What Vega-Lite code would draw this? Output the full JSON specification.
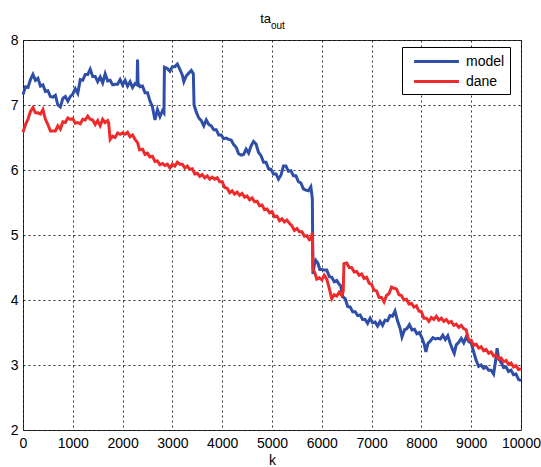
{
  "$schema": "https://vega.github.io/schema/vega-lite/v6.json",
  "autosize": "none",
  "width": 498,
  "height": 390,
  "padding": {"left": 23, "top": 40, "right": 20, "bottom": 37},
  "background": "#ffffff",
  "config": {
    "view": {"stroke": "#333333", "strokeWidth": 1},
    "axis": {
      "domain": false,
      "ticks": false,
      "grid": true,
      "gridColor": "#000000",
      "gridDash": [2, 3],
      "gridWidth": 1,
      "gridOpacity": 0.8,
      "labelFont": "Liberation Sans",
      "labelFontSize": 14,
      "labelColor": "#000000",
      "titleFont": "Liberation Sans",
      "titleFontSize": 14,
      "titleFontWeight": "normal",
      "titleColor": "#000000"
    },
    "legend": {
      "orient": "none",
      "legendX": 379,
      "legendY": 7,
      "strokeColor": "#000000",
      "fillColor": "#ffffff",
      "padding": 5,
      "labelFont": "Liberation Sans",
      "labelFontSize": 14,
      "labelColor": "#000000",
      "labelExpr": "datum.label + '   '",
      "symbolType": "M-2.8,0L2.8,0",
      "symbolSize": 256,
      "symbolStrokeWidth": 3,
      "symbolOffset": 20,
      "labelOffset": 20,
      "rowPadding": 3
    }
  },
  "data": {
    "values": [
      {"k":0,"y":7.16,"s":"model"},{"k":50,"y":7.28,"s":"model"},{"k":100,"y":7.27,"s":"model"},{"k":150,"y":7.39,"s":"model"},{"k":200,"y":7.47,"s":"model"},{"k":250,"y":7.38,"s":"model"},{"k":300,"y":7.41,"s":"model"},{"k":350,"y":7.29,"s":"model"},{"k":400,"y":7.31,"s":"model"},{"k":450,"y":7.21,"s":"model"},
      {"k":500,"y":7.22,"s":"model"},{"k":550,"y":7.13,"s":"model"},{"k":600,"y":7.12,"s":"model"},{"k":650,"y":7.15,"s":"model"},{"k":700,"y":7.00,"s":"model"},{"k":750,"y":6.97,"s":"model"},{"k":800,"y":7.10,"s":"model"},{"k":850,"y":7.13,"s":"model"},{"k":900,"y":7.06,"s":"model"},{"k":950,"y":7.13,"s":"model"},
      {"k":1000,"y":7.17,"s":"model"},{"k":1050,"y":7.25,"s":"model"},{"k":1100,"y":7.18,"s":"model"},{"k":1150,"y":7.39,"s":"model"},{"k":1200,"y":7.38,"s":"model"},{"k":1250,"y":7.47,"s":"model"},{"k":1300,"y":7.47,"s":"model"},{"k":1350,"y":7.55,"s":"model"},{"k":1400,"y":7.44,"s":"model"},{"k":1450,"y":7.44,"s":"model"},
      {"k":1500,"y":7.36,"s":"model"},{"k":1550,"y":7.43,"s":"model"},{"k":1600,"y":7.34,"s":"model"},{"k":1650,"y":7.48,"s":"model"},{"k":1700,"y":7.37,"s":"model"},{"k":1750,"y":7.38,"s":"model"},{"k":1800,"y":7.31,"s":"model"},{"k":1850,"y":7.32,"s":"model"},{"k":1900,"y":7.32,"s":"model"},{"k":1950,"y":7.39,"s":"model"},
      {"k":2000,"y":7.31,"s":"model"},{"k":2050,"y":7.38,"s":"model"},{"k":2100,"y":7.29,"s":"model"},{"k":2150,"y":7.36,"s":"model"},{"k":2200,"y":7.27,"s":"model"},{"k":2250,"y":7.33,"s":"model"},{"k":2290,"y":7.31,"s":"model"},{"k":2300,"y":7.70,"s":"model"},{"k":2310,"y":7.34,"s":"model"},{"k":2350,"y":7.28,"s":"model"},
      {"k":2400,"y":7.29,"s":"model"},{"k":2450,"y":7.19,"s":"model"},{"k":2500,"y":7.19,"s":"model"},{"k":2550,"y":7.06,"s":"model"},{"k":2600,"y":6.97,"s":"model"},{"k":2650,"y":6.77,"s":"model"},{"k":2700,"y":6.93,"s":"model"},{"k":2750,"y":6.82,"s":"model"},{"k":2800,"y":6.91,"s":"model"},{"k":2830,"y":6.88,"s":"model"},
      {"k":2840,"y":7.58,"s":"model"},{"k":2900,"y":7.56,"s":"model"},{"k":2950,"y":7.52,"s":"model"},{"k":3000,"y":7.59,"s":"model"},{"k":3050,"y":7.59,"s":"model"},{"k":3100,"y":7.63,"s":"model"},{"k":3150,"y":7.55,"s":"model"},{"k":3200,"y":7.46,"s":"model"},{"k":3230,"y":7.36,"s":"model"},{"k":3280,"y":7.45,"s":"model"},
      {"k":3330,"y":7.49,"s":"model"},{"k":3380,"y":7.53,"s":"model"},{"k":3420,"y":7.48,"s":"model"},{"k":3435,"y":7.00,"s":"model"},{"k":3480,"y":6.89,"s":"model"},{"k":3530,"y":6.80,"s":"model"},{"k":3580,"y":6.76,"s":"model"},{"k":3630,"y":6.68,"s":"model"},{"k":3680,"y":6.77,"s":"model"},{"k":3730,"y":6.70,"s":"model"},
      {"k":3780,"y":6.68,"s":"model"},{"k":3830,"y":6.62,"s":"model"},{"k":3880,"y":6.62,"s":"model"},{"k":3930,"y":6.54,"s":"model"},{"k":3980,"y":6.54,"s":"model"},{"k":4030,"y":6.48,"s":"model"},{"k":4080,"y":6.49,"s":"model"},{"k":4130,"y":6.47,"s":"model"},{"k":4180,"y":6.46,"s":"model"},{"k":4230,"y":6.39,"s":"model"},
      {"k":4280,"y":6.35,"s":"model"},{"k":4330,"y":6.25,"s":"model"},{"k":4380,"y":6.23,"s":"model"},{"k":4430,"y":6.24,"s":"model"},{"k":4480,"y":6.32,"s":"model"},{"k":4530,"y":6.26,"s":"model"},{"k":4580,"y":6.37,"s":"model"},{"k":4630,"y":6.44,"s":"model"},{"k":4680,"y":6.40,"s":"model"},{"k":4730,"y":6.27,"s":"model"},
      {"k":4780,"y":6.22,"s":"model"},{"k":4830,"y":6.12,"s":"model"},{"k":4880,"y":6.12,"s":"model"},{"k":4930,"y":6.02,"s":"model"},{"k":4980,"y":6.01,"s":"model"},{"k":5030,"y":5.94,"s":"model"},{"k":5080,"y":5.94,"s":"model"},{"k":5130,"y":5.86,"s":"model"},{"k":5180,"y":5.92,"s":"model"},{"k":5230,"y":6.06,"s":"model"},
      {"k":5280,"y":6.06,"s":"model"},{"k":5330,"y":5.98,"s":"model"},{"k":5380,"y":5.99,"s":"model"},{"k":5430,"y":5.91,"s":"model"},{"k":5480,"y":5.91,"s":"model"},{"k":5530,"y":5.82,"s":"model"},{"k":5580,"y":5.80,"s":"model"},{"k":5630,"y":5.71,"s":"model"},{"k":5680,"y":5.69,"s":"model"},{"k":5730,"y":5.68,"s":"model"},
      {"k":5780,"y":5.74,"s":"model"},{"k":5810,"y":5.56,"s":"model"},{"k":5822,"y":4.40,"s":"model"},{"k":5850,"y":4.54,"s":"model"},{"k":5880,"y":4.61,"s":"model"},{"k":5920,"y":4.57,"s":"model"},{"k":5960,"y":4.47,"s":"model"},{"k":6000,"y":4.47,"s":"model"},{"k":6050,"y":4.46,"s":"model"},{"k":6100,"y":4.46,"s":"model"},
      {"k":6150,"y":4.36,"s":"model"},{"k":6200,"y":4.35,"s":"model"},{"k":6250,"y":4.28,"s":"model"},{"k":6300,"y":4.30,"s":"model"},{"k":6350,"y":4.24,"s":"model"},{"k":6380,"y":4.22,"s":"model"},{"k":6420,"y":4.05,"s":"model"},{"k":6470,"y":4.02,"s":"model"},{"k":6520,"y":3.90,"s":"model"},{"k":6570,"y":3.89,"s":"model"},
      {"k":6620,"y":3.82,"s":"model"},{"k":6670,"y":3.82,"s":"model"},{"k":6720,"y":3.76,"s":"model"},{"k":6770,"y":3.77,"s":"model"},{"k":6820,"y":3.70,"s":"model"},{"k":6870,"y":3.70,"s":"model"},{"k":6920,"y":3.64,"s":"model"},{"k":6970,"y":3.72,"s":"model"},{"k":7020,"y":3.65,"s":"model"},{"k":7070,"y":3.66,"s":"model"},
      {"k":7120,"y":3.60,"s":"model"},{"k":7170,"y":3.67,"s":"model"},{"k":7220,"y":3.61,"s":"model"},{"k":7270,"y":3.69,"s":"model"},{"k":7320,"y":3.68,"s":"model"},{"k":7370,"y":3.76,"s":"model"},{"k":7420,"y":3.75,"s":"model"},{"k":7470,"y":3.83,"s":"model"},{"k":7520,"y":3.68,"s":"model"},{"k":7570,"y":3.57,"s":"model"},
      {"k":7610,"y":3.43,"s":"model"},{"k":7660,"y":3.54,"s":"model"},{"k":7710,"y":3.56,"s":"model"},{"k":7760,"y":3.62,"s":"model"},{"k":7810,"y":3.54,"s":"model"},{"k":7860,"y":3.55,"s":"model"},{"k":7910,"y":3.48,"s":"model"},{"k":7960,"y":3.50,"s":"model"},{"k":8010,"y":3.42,"s":"model"},{"k":8060,"y":3.31,"s":"model"},
      {"k":8090,"y":3.20,"s":"model"},{"k":8130,"y":3.33,"s":"model"},{"k":8180,"y":3.37,"s":"model"},{"k":8230,"y":3.42,"s":"model"},{"k":8280,"y":3.40,"s":"model"},{"k":8330,"y":3.41,"s":"model"},{"k":8380,"y":3.40,"s":"model"},{"k":8430,"y":3.46,"s":"model"},{"k":8480,"y":3.39,"s":"model"},{"k":8530,"y":3.45,"s":"model"},
      {"k":8580,"y":3.33,"s":"model"},{"k":8630,"y":3.23,"s":"model"},{"k":8660,"y":3.18,"s":"model"},{"k":8700,"y":3.31,"s":"model"},{"k":8750,"y":3.35,"s":"model"},{"k":8800,"y":3.41,"s":"model"},{"k":8850,"y":3.34,"s":"model"},{"k":8900,"y":3.43,"s":"model"},{"k":8950,"y":3.36,"s":"model"},{"k":9000,"y":3.34,"s":"model"},
      {"k":9050,"y":3.20,"s":"model"},{"k":9100,"y":3.07,"s":"model"},{"k":9150,"y":2.98,"s":"model"},{"k":9200,"y":3.00,"s":"model"},{"k":9250,"y":2.95,"s":"model"},{"k":9300,"y":2.97,"s":"model"},{"k":9350,"y":2.92,"s":"model"},{"k":9400,"y":2.92,"s":"model"},{"k":9450,"y":2.86,"s":"model"},{"k":9490,"y":3.06,"s":"model"},
      {"k":9520,"y":3.26,"s":"model"},{"k":9550,"y":3.10,"s":"model"},{"k":9600,"y":3.04,"s":"model"},{"k":9650,"y":2.96,"s":"model"},{"k":9700,"y":2.97,"s":"model"},{"k":9750,"y":2.90,"s":"model"},{"k":9800,"y":2.92,"s":"model"},{"k":9850,"y":2.85,"s":"model"},{"k":9900,"y":2.86,"s":"model"},{"k":9950,"y":2.78,"s":"model"},
      {"k":10000,"y":2.76,"s":"model"},

      {"k":0,"y":6.58,"s":"dane"},{"k":50,"y":6.70,"s":"dane"},{"k":100,"y":6.78,"s":"dane"},{"k":150,"y":6.90,"s":"dane"},{"k":200,"y":6.96,"s":"dane"},{"k":250,"y":6.88,"s":"dane"},{"k":300,"y":6.88,"s":"dane"},{"k":350,"y":6.86,"s":"dane"},{"k":400,"y":6.93,"s":"dane"},{"k":450,"y":6.78,"s":"dane"},
      {"k":500,"y":6.70,"s":"dane"},{"k":550,"y":6.60,"s":"dane"},{"k":600,"y":6.60,"s":"dane"},{"k":650,"y":6.60,"s":"dane"},{"k":700,"y":6.68,"s":"dane"},{"k":750,"y":6.63,"s":"dane"},{"k":800,"y":6.74,"s":"dane"},{"k":850,"y":6.73,"s":"dane"},{"k":900,"y":6.80,"s":"dane"},{"k":950,"y":6.78,"s":"dane"},
      {"k":1000,"y":6.79,"s":"dane"},{"k":1050,"y":6.72,"s":"dane"},{"k":1100,"y":6.73,"s":"dane"},{"k":1150,"y":6.71,"s":"dane"},{"k":1200,"y":6.78,"s":"dane"},{"k":1250,"y":6.77,"s":"dane"},{"k":1300,"y":6.83,"s":"dane"},{"k":1350,"y":6.78,"s":"dane"},{"k":1400,"y":6.77,"s":"dane"},{"k":1450,"y":6.70,"s":"dane"},
      {"k":1500,"y":6.76,"s":"dane"},{"k":1550,"y":6.68,"s":"dane"},{"k":1600,"y":6.78,"s":"dane"},{"k":1650,"y":6.73,"s":"dane"},{"k":1700,"y":6.76,"s":"dane"},{"k":1720,"y":6.72,"s":"dane"},{"k":1750,"y":6.47,"s":"dane"},{"k":1800,"y":6.52,"s":"dane"},{"k":1850,"y":6.50,"s":"dane"},{"k":1900,"y":6.57,"s":"dane"},
      {"k":1950,"y":6.55,"s":"dane"},{"k":2000,"y":6.57,"s":"dane"},{"k":2050,"y":6.55,"s":"dane"},{"k":2100,"y":6.58,"s":"dane"},{"k":2150,"y":6.51,"s":"dane"},{"k":2200,"y":6.54,"s":"dane"},{"k":2250,"y":6.47,"s":"dane"},{"k":2300,"y":6.42,"s":"dane"},{"k":2340,"y":6.31,"s":"dane"},{"k":2400,"y":6.32,"s":"dane"},
      {"k":2450,"y":6.24,"s":"dane"},{"k":2500,"y":6.26,"s":"dane"},{"k":2550,"y":6.20,"s":"dane"},{"k":2600,"y":6.21,"s":"dane"},{"k":2650,"y":6.13,"s":"dane"},{"k":2700,"y":6.14,"s":"dane"},{"k":2750,"y":6.08,"s":"dane"},{"k":2800,"y":6.10,"s":"dane"},{"k":2850,"y":6.07,"s":"dane"},{"k":2900,"y":6.09,"s":"dane"},
      {"k":2950,"y":6.03,"s":"dane"},{"k":3000,"y":6.09,"s":"dane"},{"k":3050,"y":6.06,"s":"dane"},{"k":3100,"y":6.12,"s":"dane"},{"k":3150,"y":6.09,"s":"dane"},{"k":3200,"y":6.09,"s":"dane"},{"k":3250,"y":6.03,"s":"dane"},{"k":3300,"y":6.06,"s":"dane"},{"k":3350,"y":6.01,"s":"dane"},{"k":3400,"y":6.02,"s":"dane"},
      {"k":3450,"y":5.94,"s":"dane"},{"k":3500,"y":5.95,"s":"dane"},{"k":3550,"y":5.90,"s":"dane"},{"k":3600,"y":5.93,"s":"dane"},{"k":3650,"y":5.88,"s":"dane"},{"k":3700,"y":5.91,"s":"dane"},{"k":3750,"y":5.86,"s":"dane"},{"k":3800,"y":5.89,"s":"dane"},{"k":3850,"y":5.86,"s":"dane"},{"k":3900,"y":5.88,"s":"dane"},
      {"k":3950,"y":5.82,"s":"dane"},{"k":4000,"y":5.82,"s":"dane"},{"k":4050,"y":5.73,"s":"dane"},{"k":4100,"y":5.72,"s":"dane"},{"k":4150,"y":5.65,"s":"dane"},{"k":4200,"y":5.68,"s":"dane"},{"k":4250,"y":5.63,"s":"dane"},{"k":4300,"y":5.66,"s":"dane"},{"k":4350,"y":5.61,"s":"dane"},{"k":4400,"y":5.64,"s":"dane"},
      {"k":4450,"y":5.58,"s":"dane"},{"k":4500,"y":5.60,"s":"dane"},{"k":4550,"y":5.54,"s":"dane"},{"k":4600,"y":5.57,"s":"dane"},{"k":4650,"y":5.51,"s":"dane"},{"k":4700,"y":5.52,"s":"dane"},{"k":4750,"y":5.45,"s":"dane"},{"k":4800,"y":5.46,"s":"dane"},{"k":4850,"y":5.39,"s":"dane"},{"k":4900,"y":5.40,"s":"dane"},
      {"k":4950,"y":5.34,"s":"dane"},{"k":5000,"y":5.36,"s":"dane"},{"k":5050,"y":5.28,"s":"dane"},{"k":5100,"y":5.29,"s":"dane"},{"k":5150,"y":5.22,"s":"dane"},{"k":5200,"y":5.25,"s":"dane"},{"k":5250,"y":5.20,"s":"dane"},{"k":5300,"y":5.23,"s":"dane"},{"k":5350,"y":5.18,"s":"dane"},{"k":5400,"y":5.14,"s":"dane"},
      {"k":5450,"y":5.07,"s":"dane"},{"k":5500,"y":5.10,"s":"dane"},{"k":5550,"y":5.05,"s":"dane"},{"k":5600,"y":5.05,"s":"dane"},{"k":5650,"y":4.98,"s":"dane"},{"k":5700,"y":4.99,"s":"dane"},{"k":5750,"y":4.93,"s":"dane"},{"k":5790,"y":4.95,"s":"dane"},{"k":5810,"y":5.04,"s":"dane"},{"k":5823,"y":4.48,"s":"dane"},
      {"k":5860,"y":4.42,"s":"dane"},{"k":5900,"y":4.32,"s":"dane"},{"k":5950,"y":4.34,"s":"dane"},{"k":6000,"y":4.31,"s":"dane"},{"k":6050,"y":4.38,"s":"dane"},{"k":6100,"y":4.32,"s":"dane"},{"k":6150,"y":4.18,"s":"dane"},{"k":6200,"y":4.02,"s":"dane"},{"k":6250,"y":4.08,"s":"dane"},{"k":6300,"y":4.06,"s":"dane"},
      {"k":6350,"y":4.12,"s":"dane"},{"k":6400,"y":4.07,"s":"dane"},{"k":6430,"y":4.13,"s":"dane"},{"k":6445,"y":4.56,"s":"dane"},{"k":6500,"y":4.57,"s":"dane"},{"k":6550,"y":4.50,"s":"dane"},{"k":6600,"y":4.50,"s":"dane"},{"k":6650,"y":4.43,"s":"dane"},{"k":6700,"y":4.44,"s":"dane"},{"k":6750,"y":4.38,"s":"dane"},
      {"k":6800,"y":4.40,"s":"dane"},{"k":6850,"y":4.33,"s":"dane"},{"k":6900,"y":4.35,"s":"dane"},{"k":6950,"y":4.26,"s":"dane"},{"k":7000,"y":4.24,"s":"dane"},{"k":7050,"y":4.15,"s":"dane"},{"k":7100,"y":4.14,"s":"dane"},{"k":7150,"y":4.04,"s":"dane"},{"k":7200,"y":4.04,"s":"dane"},{"k":7250,"y":3.97,"s":"dane"},
      {"k":7300,"y":4.07,"s":"dane"},{"k":7350,"y":4.10,"s":"dane"},{"k":7400,"y":4.20,"s":"dane"},{"k":7450,"y":4.18,"s":"dane"},{"k":7500,"y":4.17,"s":"dane"},{"k":7550,"y":4.08,"s":"dane"},{"k":7600,"y":4.07,"s":"dane"},{"k":7650,"y":4.00,"s":"dane"},{"k":7700,"y":4.01,"s":"dane"},{"k":7750,"y":3.94,"s":"dane"},
      {"k":7800,"y":3.95,"s":"dane"},{"k":7850,"y":3.89,"s":"dane"},{"k":7900,"y":3.91,"s":"dane"},{"k":7950,"y":3.83,"s":"dane"},{"k":8000,"y":3.82,"s":"dane"},{"k":8050,"y":3.72,"s":"dane"},{"k":8100,"y":3.72,"s":"dane"},{"k":8150,"y":3.67,"s":"dane"},{"k":8200,"y":3.73,"s":"dane"},{"k":8250,"y":3.70,"s":"dane"},
      {"k":8300,"y":3.75,"s":"dane"},{"k":8350,"y":3.69,"s":"dane"},{"k":8400,"y":3.72,"s":"dane"},{"k":8450,"y":3.67,"s":"dane"},{"k":8500,"y":3.70,"s":"dane"},{"k":8550,"y":3.65,"s":"dane"},{"k":8600,"y":3.67,"s":"dane"},{"k":8650,"y":3.61,"s":"dane"},{"k":8700,"y":3.63,"s":"dane"},{"k":8750,"y":3.58,"s":"dane"},
      {"k":8800,"y":3.61,"s":"dane"},{"k":8850,"y":3.56,"s":"dane"},{"k":8900,"y":3.54,"s":"dane"},{"k":8950,"y":3.38,"s":"dane"},{"k":9000,"y":3.38,"s":"dane"},{"k":9050,"y":3.30,"s":"dane"},{"k":9100,"y":3.32,"s":"dane"},{"k":9150,"y":3.26,"s":"dane"},{"k":9200,"y":3.28,"s":"dane"},{"k":9250,"y":3.22,"s":"dane"},
      {"k":9300,"y":3.24,"s":"dane"},{"k":9350,"y":3.18,"s":"dane"},{"k":9400,"y":3.20,"s":"dane"},{"k":9450,"y":3.14,"s":"dane"},{"k":9500,"y":3.15,"s":"dane"},{"k":9550,"y":3.09,"s":"dane"},{"k":9600,"y":3.11,"s":"dane"},{"k":9650,"y":3.05,"s":"dane"},{"k":9700,"y":3.07,"s":"dane"},{"k":9750,"y":3.01,"s":"dane"},
      {"k":9800,"y":3.03,"s":"dane"},{"k":9850,"y":2.97,"s":"dane"},{"k":9900,"y":2.99,"s":"dane"},{"k":9950,"y":2.93,"s":"dane"},{"k":10000,"y":2.94,"s":"dane"}
    ]
  },
  "encoding": {
    "x": {
      "field": "k",
      "type": "quantitative",
      "title": "k",
      "scale": {"domain": [0, 10000], "nice": false, "zero": false},
      "axis": {"values": [0,1000,2000,3000,4000,5000,6000,7000,8000,9000,10000], "format": "d", "labelPadding": 6, "titlePadding": 3, "labelFlush": false, "labelOverlap": false}
    },
    "y": {
      "field": "y",
      "type": "quantitative",
      "title": null,
      "scale": {"domain": [2, 8], "nice": false, "zero": false},
      "axis": {"values": [2,3,4,5,6,7,8], "labelPadding": 5, "labelFlush": false}
    },
    "color": {
      "field": "s",
      "type": "nominal",
      "title": null,
      "sort": ["model", "dane"],
      "scale": {"domain": ["model", "dane"], "range": ["#2f4ea8", "#ee2a2a"]}
    }
  },
  "layer": [
    {
      "transform": [{"filter": "datum.s === 'model'"}],
      "mark": {"type": "line", "strokeWidth": 3, "interpolate": "linear"}
    },
    {
      "transform": [{"filter": "datum.s === 'dane'"}],
      "mark": {"type": "line", "strokeWidth": 3, "interpolate": "linear"}
    },
    {
      "data": {"values": [{"k": 5000, "y": 8, "t": "ta"}]},
      "mark": {"type": "text", "font": "Liberation Sans", "fontSize": 13, "fill": "#000000", "align": "right", "baseline": "middle", "dx": -1, "dy": -21, "clip": false},
      "encoding": {
        "text": {"field": "t", "type": "nominal"},
        "color": {"value": "#000000"}
      }
    },
    {
      "data": {"values": [{"k": 5000, "y": 8, "t": "out"}]},
      "mark": {"type": "text", "font": "Liberation Sans", "fontSize": 10, "fill": "#000000", "align": "left", "baseline": "middle", "dx": -1, "dy": -14, "clip": false},
      "encoding": {
        "text": {"field": "t", "type": "nominal"},
        "color": {"value": "#000000"}
      }
    }
  ]
}
